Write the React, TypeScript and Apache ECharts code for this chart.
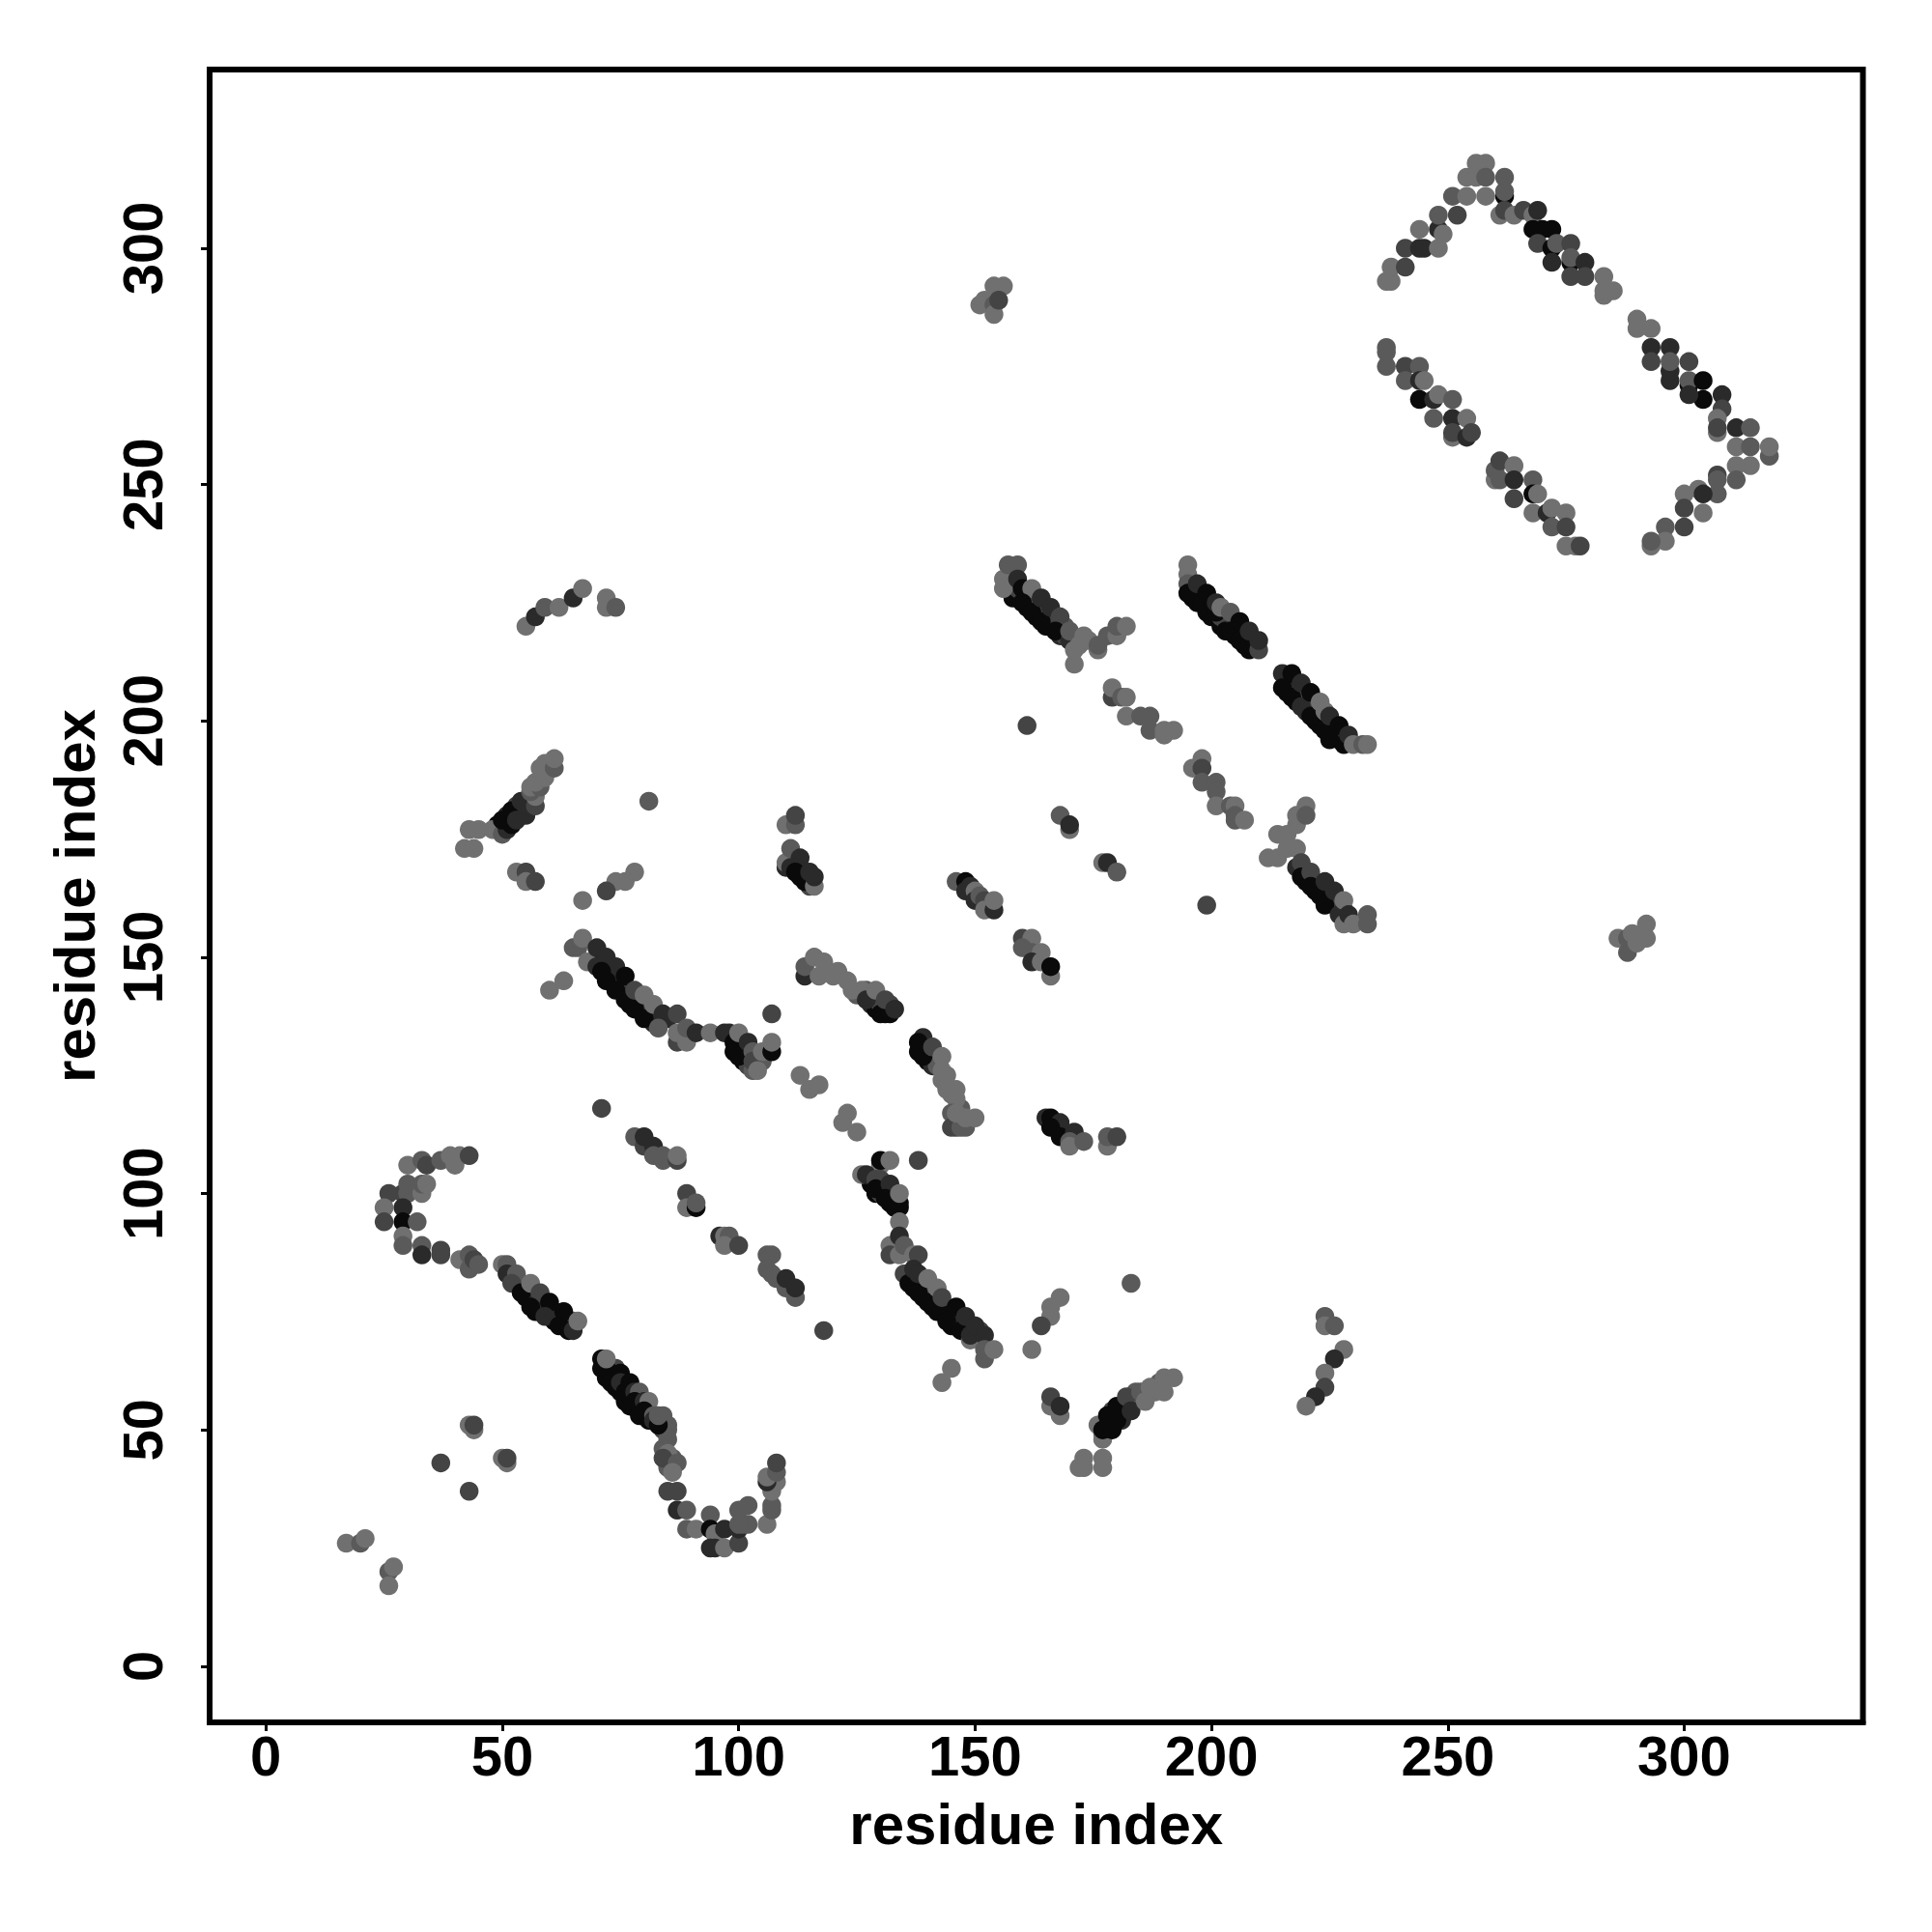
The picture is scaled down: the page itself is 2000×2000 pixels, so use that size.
import React, { useEffect, useRef } from "react";
import * as echarts from "echarts";

type P = [number, number, number];
const tickValues = [0, 50, 100, 150, 200, 250, 300];
const axisTitle = "residue index";
// third value: contact strength class, 0 = weakest, 4 = strongest
const underHairpin: P[] = [[52,82,2],[53,81,4],[54,81,2],[55,78,4],[55,80,2],[57,78,3],[57,75,4],[58,77,2],[59,76,3],[60,74,4],[61,75,2],[61,73,4],[62,74,3],[63,72,4],[63,73,2],[65,73,1],[64,72,3]];
const underLow: P[] = [[72,62,4],[72,61,4],[74,61,4],[74,63,2],[75,58,4],[76,60,3],[76,56,4],[77,57,4],[77,55,4],[79,55,4],[79,53,4],[81,54,2],[81,52,4],[83,52,3],[84,50,2],[84,53,1],[85,48,1],[85,44,1],[86,44,1],[85,42,1],[84,46,1]];
const underTwo: P[] = [[71,149,4],[72,148,3],[73,147,4],[73,145,4],[74,146,2],[75,144,4],[75,146,3],[76,143,2],[77,142,3],[77,140,4],[79,140,4],[79,142,1],[81,138,4],[81,140,2],[82,136,3],[83,138,3],[85,137,3],[88,133,1],[99,130,4],[100,132,2],[101,130,3],[101,128,4],[102,127,2],[103,126,1],[105,128,1]];
const underThreeFour: P[] = [[128,140,3],[129,139,4],[131,138,4],[130,140,2],[132,140,2],[125,142,1],[127,143,1],[119,147,0],[120,146,0],[139,131,3],[140,128,4],[141,127,3],[140,130,2],[142,127,1],[144,125,0],[144,122,0],[147,118,1]];
const underMid: P[] = [[128,102,4],[129,100,4],[130,100,2],[131,101,2],[132,98,4],[132,100,2],[133,97,4],[133,99,3],[137,80,4],[137,82,2],[139,78,4],[139,80,2],[141,79,1],[141,76,4],[142,75,4],[143,77,2],[144,75,2],[145,75,3],[145,72,4],[146,73,4],[147,73,3],[148,71,4],[149,72,2],[150,70,3],[151,71,2],[151,69,3]];
const underDiag: P[] = [[157,229,3],[158,227,2],[158,226,4],[159,228,2],[160,227,2],[161,224,4],[162,226,2],[163,222,4],[163,225,2],[165,220,4],[165,223,2],[166,220,4],[167,222,2],[168,218,3],[169,218,2],[169,220,1],[196,226,4],[197,227,2],[197,225,4],[199,225,3],[199,223,4],[200,224,2],[200,222,4],[202,220,4],[202,222,2],[203,221,2],[203,219,4],[205,218,4],[205,220,2],[207,216,4],[207,218,2],[209,216,3],[216,208,4],[216,206,4],[218,207,3],[218,204,4],[220,206,2],[220,202,3],[222,200,4],[222,203,2],[223,199,4],[226,197,4],[226,199,2],[227,196,4],[228,197,3],[216,209,3],[218,169,3],[220,168,3],[220,166,4],[222,164,4],[222,166,2],[223,165,2],[225,162,4],[225,164,2],[226,161,4],[227,162,2],[228,160,3]];
const underMisc: P[] = [[177,49,0],[178,50,4],[178,51,4],[179,52,4],[179,54,2],[181,54,3],[181,52,3],[182,55,2],[184,56,1],[184,58,1],[186,58,1],[188,58,0],[188,59,0],[189,60,1],[49,178,4],[51,180,3],[53,182,2],[54,181,3],[51,178,4],[110,169,3],[112,170,3],[113,168,4],[113,167,4],[114,168,2],[115,166,3],[115,165,2]];
const isolated: P[] = [[17,26,0],[20,26,1],[21,27,0],[26,20,1],[27,21,0],[26,17,0],[37,43,2],[43,51,0],[44,50,0],[44,51,2],[43,37,2],[50,44,0],[51,43,0],[51,44,2],[71,118,2],[81,183,1],[118,71,2],[138,107,2],[183,81,1],[161,199,2],[199,161,2],[60,143,0],[63,145,0]];
const valley: P[] = [[85,51,1],[85,50,1],[85,45,0],[84,44,2],[87,43,1],[86,41,0],[85,37,2],[87,37,2],[87,33,3],[89,33,1],[89,29,1],[91,29,0],[94,32,1],[94,29,4],[95,28,0],[97,29,3],[94,25,3],[95,25,3],[97,25,0],[100,26,2],[100,29,3],[100,33,1],[102,34,1],[101,30,1],[102,30,1],[100,30,1],[106,30,0],[107,33,1],[107,34,1],[107,37,0],[108,39,0],[106,39,3],[106,40,0],[108,41,1],[108,43,2]];
const lowStrand: P[] = [[71,65,4],[71,63,4],[72,63,4],[73,62,4],[73,60,4],[74,59,4],[72,65,0],[75,62,4],[75,60,3],[76,58,4],[77,60,4],[77,59,4],[78,58,3],[79,58,1],[78,56,4],[80,56,3],[81,56,0],[80,54,4],[82,53,1],[82,52,3],[83,51,4],[83,53,1]];
const hairpin: P[] = [[30,106,0],[33,107,1],[34,106,2],[37,107,1],[39,108,0],[40,106,0],[41,108,0],[43,108,2],[26,100,2],[29,100,2],[30,100,1],[30,102,1],[33,100,0],[33,102,1],[34,102,0],[25,97,0],[29,97,3],[25,94,2],[29,94,4],[32,94,1],[29,91,0],[29,89,1],[33,89,1],[33,87,3],[37,87,2],[37,88,2],[41,86,0],[43,87,1],[43,84,1],[44,86,2],[45,85,1],[50,85,0],[51,85,1],[51,83,3],[53,83,1],[52,81,2],[54,79,4],[56,81,0],[58,79,2],[56,76,4],[60,77,4],[59,74,3],[63,75,4],[62,72,4],[64,71,4],[65,71,3],[66,73,0]];
const parallelOne: P[] = [[78,112,1],[80,110,2],[80,112,3],[82,110,3],[82,108,1],[84,107,1],[84,108,1],[87,107,2],[87,108,0],[89,100,2],[89,97,0],[91,97,4],[91,98,1],[96,91,3],[97,91,0],[98,91,1],[97,89,0],[100,89,2],[106,87,1],[107,87,1],[106,84,1],[107,83,1],[108,82,1],[112,78,1],[110,80,1],[110,82,3],[112,80,3]];
const strandMid: P[] = [[130,106,0],[130,107,4],[132,107,0],[126,104,0],[127,104,3],[129,103,2],[130,103,2],[129,101,4],[132,102,3],[131,99,4],[134,97,4],[134,98,4],[134,100,0],[134,94,0],[132,89,0],[132,87,2],[134,91,3],[134,87,0],[135,89,1],[137,87,0],[138,87,2],[135,83,2],[136,81,4],[137,84,3],[138,83,3],[138,79,4],[140,77,4],[140,82,0],[142,80,0],[143,75,4],[143,78,2],[144,73,4],[146,76,4],[147,71,4],[148,74,3],[149,69,0],[149,70,3],[150,72,3],[152,70,3],[152,65,1],[152,67,1],[154,67,0],[145,63,0],[143,60,0]];
const arcLow: P[] = [[168,78,0],[166,76,0],[166,74,0],[164,72,2],[162,67,0],[166,55,0],[168,53,0],[166,57,2],[168,55,3],[172,42,0],[173,42,0],[173,44,0],[177,42,0],[177,44,0],[177,48,0],[176,51,0],[177,50,4],[179,50,4],[178,53,4],[180,52,4],[180,55,4],[182,57,2],[183,54,3],[185,58,1],[186,56,0],[187,59,0],[190,58,0],[190,61,0],[192,61,0],[224,74,1],[224,72,0],[226,72,1],[228,67,0],[226,65,3],[224,62,0],[224,59,2],[222,57,3],[220,55,0]];
const hairpinUpper: P[] = [[55,220,0],[57,222,3],[59,224,1],[62,224,0],[65,226,3],[67,228,0],[72,226,0],[72,224,0],[74,224,1],[48,177,0],[50,176,1],[51,177,3],[50,179,4],[52,178,4],[52,181,4],[53,179,3],[55,180,3],[54,183,3],[55,182,3],[57,182,2],[57,184,0],[56,185,1],[56,186,0],[58,186,1],[57,187,0],[59,188,0],[59,189,0],[58,190,0],[59,191,0],[61,190,1],[61,192,0],[43,177,0],[45,177,0],[42,173,0],[44,173,0],[53,168,0],[55,168,2],[55,166,0],[57,166,2],[78,168,0],[76,166,0],[74,166,0],[72,164,2],[67,162,0]];
const blockA: P[] = [[110,178,0],[112,178,1],[112,180,2],[110,170,0],[111,173,1],[113,171,3],[111,169,3],[112,168,4],[114,166,4],[116,165,0],[115,168,3],[116,167,3]];
const strandTwo: P[] = [[65,152,1],[66,152,1],[67,154,0],[68,149,0],[70,152,3],[72,150,3],[70,148,3],[74,148,3],[71,147,4],[72,145,4],[76,146,4],[74,143,4],[76,141,4],[78,139,4],[80,137,4],[78,143,2],[80,142,0],[82,140,0],[84,138,3],[83,135,1],[87,132,2],[87,134,0],[89,132,0],[87,138,2],[89,135,1],[91,134,3],[94,134,0],[97,134,3],[98,134,3],[99,132,4],[100,134,0],[100,129,4],[102,132,3],[103,130,1],[103,128,2],[104,126,0],[105,130,0],[107,138,2],[107,130,4],[107,132,0]];
const strandThree: P[] = [[114,146,3],[114,148,1],[116,150,0],[117,146,0],[118,149,0],[121,147,0],[123,145,0],[124,143,0],[126,143,0],[127,141,3],[129,143,0],[130,138,4],[132,138,4],[131,141,2],[133,139,3],[113,125,0],[115,122,0],[117,123,0],[122,115,0],[123,117,0],[125,113,0]];
const strandFour: P[] = [[139,133,3],[138,132,4],[138,130,4],[139,129,4],[141,131,2],[143,129,0],[143,126,0],[143,124,0],[146,122,0],[145,121,0],[146,120,0],[145,117,1],[145,114,2],[146,114,2],[147,114,1],[148,114,1],[146,117,0],[148,116,0],[150,116,0],[165,116,3],[166,116,4],[168,115,3],[166,114,4],[168,112,4],[171,113,3],[170,111,1],[170,110,0],[173,111,1],[178,110,0],[178,112,1],[180,112,2]];
const blockB: P[] = [[146,166,1],[148,166,4],[148,164,3],[149,165,3],[150,164,0],[150,162,3],[151,163,1],[152,162,2],[152,160,0],[154,160,3],[154,162,0],[160,154,2],[162,154,0],[160,152,1],[162,151,1],[164,151,0],[162,149,3],[164,149,0],[166,146,0],[166,148,4],[168,180,1],[170,177,0],[170,178,3],[177,170,0],[178,170,3],[180,168,1]];
const diagOne: P[] = [[156,228,0],[156,230,0],[157,233,1],[159,233,1],[159,230,3],[160,228,4],[162,228,0],[160,225,4],[162,223,4],[164,221,4],[164,226,3],[166,224,3],[168,222,2],[167,219,4],[170,217,3],[170,219,1],[171,212,0],[171,215,0],[172,216,0],[174,217,0],[173,218,0],[176,215,0],[176,216,1],[178,218,1],[180,218,0],[180,220,1],[182,220,0],[179,205,2],[179,207,0],[181,205,1],[182,205,0],[182,201,0],[185,201,1],[187,201,1],[187,198,1],[190,197,0],[190,198,0],[192,198,0]];
const diagTwo: P[] = [[195,233,0],[195,231,0],[195,229,1],[195,227,4],[197,229,3],[198,225,4],[199,227,4],[201,223,4],[201,225,3],[202,224,0],[204,223,1],[204,219,4],[206,217,4],[206,221,4],[208,215,4],[208,219,3],[210,215,2],[210,217,3],[196,190,0],[198,192,0],[198,190,2],[198,187,1],[201,187,1],[201,185,1],[201,182,0],[204,182,1],[205,182,0],[205,180,1],[205,179,1],[207,179,0]];
const diagThree: P[] = [[215,210,3],[217,210,4],[215,207,4],[217,205,4],[219,208,3],[219,203,3],[221,206,4],[221,201,4],[223,204,0],[224,202,0],[224,198,4],[225,201,3],[225,196,4],[227,199,4],[228,195,4],[229,197,3],[230,195,0],[232,195,1],[233,195,0]];
const diagFour: P[] = [[220,182,0],[218,178,0],[218,180,0],[220,180,1],[214,176,0],[216,176,0],[216,173,0],[218,173,0],[212,171,0],[214,171,0],[219,170,2],[219,167,4],[221,168,2],[221,165,4],[223,163,4],[224,161,4],[224,166,3],[226,164,3],[227,159,3],[228,157,0],[228,162,0],[229,159,3],[230,157,0],[233,157,1],[233,159,1]];
const arcTop: P[] = [[237,293,0],[238,293,0],[238,296,0],[241,296,2],[241,300,2],[244,300,3],[245,300,3],[248,300,0],[248,304,3],[244,304,0],[249,303,0],[248,307,1],[252,307,2],[251,311,1],[254,311,0],[254,315,0],[256,315,0],[256,318,0],[258,318,0],[258,315,1],[258,311,0],[262,311,4],[262,312,1],[262,315,1],[261,307,0],[262,308,2],[264,307,0],[266,308,2],[268,307,0],[269,308,3]];
const arcRight: P[] = [[268,304,4],[270,304,4],[272,304,4],[269,301,2],[272,300,4],[273,301,1],[276,301,2],[272,297,3],[276,297,4],[276,298,1],[279,297,3],[276,294,2],[279,294,2],[283,294,0],[283,290,0],[283,291,0],[285,291,0],[290,285,0],[290,283,0],[293,283,0],[293,279,3],[297,279,3],[293,276,2],[297,272,3],[297,274,3],[297,276,1],[301,276,2],[301,271,4],[301,272,1],[304,272,4],[304,268,4],[301,269,3],[308,269,3],[308,266,2],[307,264,0],[307,261,0],[307,262,2],[311,262,3],[314,262,1],[311,258,0],[314,258,1],[318,256,1],[318,258,0],[314,254,0],[311,254,0],[311,251,1],[307,252,2],[307,251,1],[307,248,1],[303,249,0],[304,248,3],[300,248,0],[300,245,2],[304,244,0],[300,241,2],[296,241,1],[296,238,0],[293,237,0],[293,238,1]];
const arcLeft: P[] = [[237,279,1],[237,278,1],[237,275,1],[241,275,2],[244,275,1],[241,272,1],[244,272,3],[245,272,0],[244,268,4],[247,268,3],[248,269,0],[251,268,1],[247,264,1],[251,264,3],[254,264,0],[251,260,0],[251,261,2],[254,260,3],[255,261,2],[260,251,0],[260,253,1],[261,255,2],[264,254,0],[261,251,1],[264,251,3],[268,251,1],[264,247,2],[268,248,4],[269,248,0],[268,244,0],[271,244,3],[272,245,0],[275,244,0],[272,241,1],[275,241,2],[275,237,0],[277,237,0],[278,237,2]];
const blockC: P[] = [[151,288,0],[152,289,0],[154,292,0],[156,292,0],[154,288,1],[154,286,0],[155,289,2],[286,154,0],[288,151,1],[288,154,1],[289,155,0],[292,157,0],[292,154,0],[290,153,0]];

const shades = ["#707070", "#5a5a5a", "#444444", "#2a2a2a", "#0a0a0a"];
const groups: P[][] = [underHairpin, underLow, underTwo, underThreeFour, underMid, underDiag, underMisc, isolated, valley, lowStrand, hairpin, parallelOne, strandMid, arcLow, hairpinUpper, blockA, strandTwo, strandThree, strandFour, blockB, diagOne, diagTwo, diagThree, diagFour, arcTop, arcRight, arcLeft, blockC];

export default function App() {
  const ref = useRef<HTMLDivElement>(null);
  useEffect(() => {
    document.body.style.margin = "0";
    const chart = echarts.init(ref.current!, undefined, { renderer: "svg" });
    const axisBase = {
      type: "value" as const,
      min: -11.9,
      max: 337.8,
      name: axisTitle,
      nameLocation: "middle" as const,
      splitLine: { show: false },
      axisLine: { show: true, onZero: false, lineStyle: { color: "#000", width: 6 } },
      axisTick: { show: true, length: 9, customValues: tickValues, lineStyle: { color: "#000", width: 3 } },
      nameTextStyle: { fontFamily: "Liberation Sans", fontWeight: "bold" as const, fontSize: 60, color: "#000" },
    };
    chart.setOption({
      animation: false,
      backgroundColor: "#fff",
      grid: { left: 217, right: 71.5, top: 72, bottom: 217, show: true, borderColor: "#000", borderWidth: 6, backgroundColor: "transparent" },
      xAxis: {
        ...axisBase,
        nameGap: 75.5,
        axisLabel: { customValues: tickValues, margin: 5, fontFamily: "Liberation Sans", fontWeight: "bold", fontSize: 58, color: "#000" },
      },
      yAxis: {
        ...axisBase,
        nameGap: 110,
        axisLabel: { customValues: tickValues, rotate: 90, margin: 70, align: "center", verticalAlign: "middle", fontFamily: "Liberation Sans", fontWeight: "bold", fontSize: 58, color: "#000" },
      },
      series: groups.map((g) => ({
        type: "scatter",
        data: g,
        symbolSize: 19.5,
        silent: true,
        itemStyle: { color: (p: any) => shades[p.data[2]], opacity: 1 },
      })),
    });
    return () => chart.dispose();
  }, []);
  return <div ref={ref} style={{ width: 2000, height: 2000 }} />;
}
